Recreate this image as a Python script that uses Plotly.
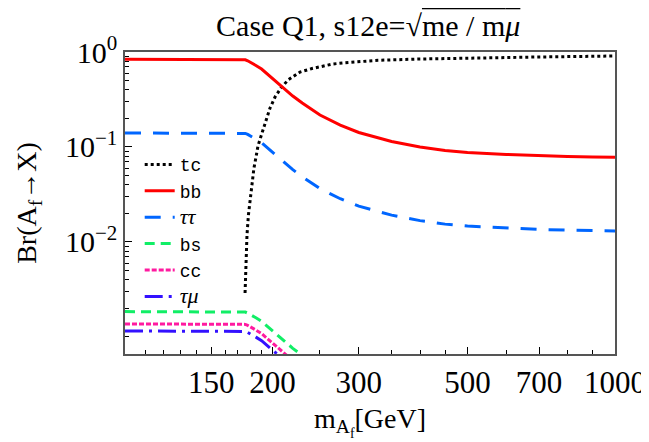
import plotly.graph_objects as go

# ---- data ----
mass = [100, 150, 174, 176, 178, 180, 185, 190, 195, 200, 210, 220, 230, 250, 275,
        300, 350, 400, 450, 500, 600, 700, 800, 900, 1000]
br_bb = [0.838, 0.838, 0.838, 0.828, 0.808, 0.785, 0.721, 0.662, 0.587, 0.526, 0.423,
         0.344, 0.290, 0.217, 0.170, 0.142, 0.1143, 0.100, 0.0919, 0.0876,
         0.0834, 0.0808, 0.0794, 0.0785, 0.0779]
br_tautau = [0.1405, 0.1405, 0.1405, 0.1388, 0.1354, 0.1316, 0.1208, 0.1110, 0.0984,
             0.0882, 0.0709, 0.0577, 0.0486, 0.0364, 0.0285, 0.0238, 0.01916,
             0.01676, 0.01540, 0.01468, 0.01398, 0.01354, 0.01331, 0.01316,
             0.01306]
br_bs = [0.001847, 0.001847, 0.001847, 0.001825, 0.001781, 0.001730, 0.001589, 0.001459,
         0.001294, 0.001159, 0.000932, 0.000758, 0.000639, 0.000478, 0.000375,
         0.000313, 0.000252, 0.000220, 0.000203, 0.000193, 0.000184, 0.000178,
         0.000175, 0.000173, 0.000172]
br_cc = [0.001371, 0.001371, 0.001371, 0.001355, 0.001322, 0.001284, 0.001180, 0.001083,
         0.000960, 0.000861, 0.000692, 0.000563, 0.000474, 0.000355, 0.000278,
         0.000232, 0.000187, 0.000164, 0.000150, 0.000143, 0.000136, 0.000132,
         0.000130, 0.000128, 0.000127]
br_taumu = [0.001156, 0.001156, 0.001156, 0.001143, 0.001115, 0.001083, 0.000995,
            0.000914, 0.000810, 0.000726, 0.000584, 0.000475, 0.000400,
            0.000299, 0.000235, 0.000196, 0.000158, 0.000138, 0.000127,
            0.000121, 0.000115, 0.000112, 0.000110, 0.000108, 0.000108]

mass_tc = [175.8, 176.6, 177.4, 178.6, 179.9, 181.6, 183.3, 185.1, 186.8, 190.4,
           194.0, 197.7, 202.4, 208.2, 215.1, 222.3, 227.6, 240.8, 253.6, 265.8,
           281.2, 296.1, 328.4, 400, 500, 700, 1000]
br_tc = [0.0029, 0.00647, 0.01185, 0.01924, 0.0277, 0.0418, 0.0601, 0.0785,
         0.1025, 0.1404, 0.1924, 0.2574, 0.3357, 0.418, 0.507, 0.573, 0.615,
         0.670, 0.712, 0.748, 0.771, 0.790, 0.818, 0.844, 0.865, 0.886, 0.908]

x_tickvals = [150, 200, 300, 500, 700, 1000]
x_ticktext = ["150", "200", "300", "500", "700", "1000"]
x_minor = [110, 120, 130, 140, 160, 170, 180, 190, 250, 350, 400, 450, 600, 800, 900]
y_tickvals = [1, 0.1, 0.01]
y_ticktext = ["10<sup>0</sup>", "10<sup>−1</sup>", "10<sup>−2</sup>"]
y_minor = [m * d for d in (0.1, 0.01, 0.001) for m in range(2, 10)] + [0.001]

SERIF = "Liberation Serif"
MONO = "Liberation Mono"
GREEK = "<span style='font-family:Liberation Serif;font-size:22px'><i>{}</i></span>"

fig = go.Figure()
fig.add_trace(go.Scatter(x=mass_tc, y=br_tc, mode="lines", name="tc",
                         line=dict(color="black", width=3, dash="dot")))
fig.add_trace(go.Scatter(x=mass, y=br_bb, mode="lines", name="bb",
                         line=dict(color="#FF0000", width=3)))
fig.add_trace(go.Scatter(x=mass, y=br_tautau, mode="lines", name=GREEK.format("ττ"),
                         line=dict(color="#0066FF", width=3, dash="16px,12px")))
fig.add_trace(go.Scatter(x=mass, y=br_bs, mode="lines", name="bs",
                         line=dict(color="#11EE66", width=3, dash="10px,6px")))
fig.add_trace(go.Scatter(x=mass, y=br_cc, mode="lines", name="cc",
                         line=dict(color="#FF1AA0", width=3, dash="5px,2px")))
fig.add_trace(go.Scatter(x=mass, y=br_taumu, mode="lines", name=GREEK.format("τμ"),
                         line=dict(color="#3311FF", width=3, dash="18px,6px,3px,6px")))

# page body has an 8px margin, so the figure is 8px smaller and margins shifted
fig.update_layout(
    width=641, height=434,
    margin=dict(l=117, r=34, t=44, b=88),
    paper_bgcolor="white", plot_bgcolor="white",
    font=dict(family=SERIF, size=26, color="black"),
    title=dict(text="Case Q1, s12e=√<span style='text-decoration:overline'>me / m<i>μ</i></span>",
               x=0.562, xanchor="center", y=0.959, yanchor="middle",
               font=dict(family=SERIF, size=30)),
    showlegend=True,
    legend=dict(x=0.03, y=0.688, xanchor="left", yanchor="top",
                bgcolor="rgba(0,0,0,0)", font=dict(family=MONO, size=18),
                tracegroupgap=0, itemwidth=30),
)
fig.update_xaxes(type="log", range=[2, 3], automargin=False,
                 tickmode="array", tickvals=x_tickvals, ticktext=x_ticktext,
                 ticks="inside", ticklen=7, tickcolor="black",
                 minor=dict(tickmode="array", tickvals=x_minor, ticks="inside",
                            ticklen=4, tickcolor="black"),
                 showline=True, linecolor="#555555", linewidth=1.5, mirror=True,
                 showgrid=False, zeroline=False,
                 tickfont=dict(family=SERIF, size=31),
                 title=dict(text="m<sub>A<sub>f</sub></sub>[GeV]", standoff=9,
                            font=dict(family=SERIF, size=28)))
fig.update_yaxes(type="log", range=[-3.18, 0], automargin=False,
                 tickmode="array", tickvals=y_tickvals, ticktext=y_ticktext,
                 ticks="inside", ticklen=7, tickcolor="black",
                 minor=dict(tickmode="array", tickvals=y_minor, ticks="inside",
                            ticklen=4, tickcolor="black"),
                 showline=True, linecolor="#555555", linewidth=1.5, mirror=True,
                 showgrid=False, zeroline=False,
                 tickfont=dict(family=SERIF, size=30),
                 title=dict(text="Br(A<sub>f</sub>→X)", standoff=20,
                            font=dict(family=SERIF, size=28)))

fig.write_html("out.html")
